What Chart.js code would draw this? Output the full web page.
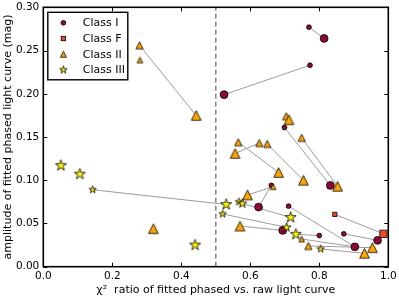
<!DOCTYPE html>
<html><head><meta charset="utf-8">
<script src="https://cdn.jsdelivr.net/npm/chart.js@4/dist/chart.umd.min.js"></script>
<style>html,body{margin:0;padding:0;background:#fff}</style>
</head><body>
<canvas id="c" width="399" height="300"></canvas>
<script>
// ---- data ----
const xTicks = [0, 0.2, 0.4, 0.6, 0.8, 1.0];
const xTickLabels = ['0.0', '0.2', '0.4', '0.6', '0.8', '1.0'];
const yTicks = [0, 0.05, 0.10, 0.15, 0.20, 0.25, 0.30];
const yTickLabels = ['0.00', '0.05', '0.10', '0.15', '0.20', '0.25', '0.30'];
const chi2Threshold = 0.5;

const classI_x = [0.770, 0.814, 0.773, 0.524, 0.699, 0.832, 0.661, 0.624, 0.711, 0.903, 0.871, 0.969, 0.694, 0.800];
const classI_y = [0.277, 0.264, 0.233, 0.199, 0.161, 0.094, 0.094, 0.069, 0.070, 0.023, 0.038, 0.0305, 0.042, 0.036];
const classI_sz = [1, 2, 1, 2, 1, 2, 1, 2, 1, 2, 1, 2, 2, 1];

const classF_x = [0.845, 0.986];
const classF_y = [0.0605, 0.038];
const classF_sz = [1, 2];

const classII_x = [0.279, 0.280, 0.443, 0.319, 0.704, 0.712, 0.749, 0.853, 0.565, 0.682, 0.626, 0.556, 0.649, 0.754, 0.666, 0.592, 0.570, 0.749, 0.768, 0.954, 0.931];
const classII_y = [0.256, 0.239, 0.175, 0.044, 0.174, 0.170, 0.149, 0.093, 0.144, 0.109, 0.143, 0.131, 0.142, 0.100, 0.0925, 0.083, 0.047, 0.032, 0.024, 0.022, 0.0155];
const classII_sz = [2, 1, 3, 3, 2, 3, 2, 3, 2, 3, 2, 3, 2, 3, 1, 3, 3, 1, 2, 3, 3];

const classIII_x = [0.051, 0.106, 0.143, 0.440, 0.530, 0.567, 0.577, 0.520, 0.717, 0.705, 0.732, 0.804];
const classIII_y = [0.117, 0.107, 0.089, 0.025, 0.072, 0.075, 0.073, 0.061, 0.057, 0.0455, 0.0375, 0.0205];
const classIII_sz = [3, 3, 1, 3, 3, 1, 2, 1, 3, 2, 3, 1];

// pairs of (class, index) joined by a grey line
const links = [
  ['I',0,'I',1], ['I',2,'I',3], ['I',4,'I',5], ['I',6,'I',7], ['I',8,'I',9], ['I',10,'I',11],
  ['F',0,'F',1],
  ['II',0,'II',2], ['II',6,'II',7], ['II',8,'II',9], ['II',10,'II',11], ['II',12,'II',13], ['II',14,'II',15],
  ['III',2,'III',4], ['III',6,'III',8], ['III',7,'III',9], ['II',16,'I',12], ['III',10,'I',13],
  ['II',17,'I',9], ['II',18,'II',19], ['III',11,'II',20]
];

// ---- styles ----
const FONT = 'DejaVu Sans';
const colI = '#8c0a34', colF = '#ef4a26', colII = '#ffa500', colIII = '#fff200';
const circR = {1: 2.4, 2: 3.9};
const sqR = {1: 3.0, 2: 5.2};
const triW = {1: 5.6, 2: 7.2, 3: 9.6};
const starR = {1: 3.9, 2: 4.7, 3: 5.8};

function triCanvas(w, fill) {
  const s = Math.ceil(w + 3);
  const c = document.createElement('canvas'); c.width = s; c.height = s;
  const g = c.getContext('2d'); const cx = s / 2, cy = s / 2, h = w / 2;
  g.beginPath(); g.moveTo(cx, cy - h); g.lineTo(cx + h, cy + h); g.lineTo(cx - h, cy + h); g.closePath();
  g.fillStyle = fill; g.fill(); g.lineWidth = 0.8; g.strokeStyle = '#000'; g.lineJoin = 'miter'; g.stroke();
  return c;
}
function starCanvas(R, fill) {
  const s = Math.ceil(2 * R + 3);
  const c = document.createElement('canvas'); c.width = s; c.height = s;
  const g = c.getContext('2d'); const cx = s / 2, cy = s / 2;
  g.beginPath();
  for (let i = 0; i < 10; i++) {
    const r = i % 2 === 0 ? R : R * 0.382;
    const a = -Math.PI / 2 + i * Math.PI / 5;
    const px = cx + r * Math.cos(a), py = cy + r * Math.sin(a);
    if (i === 0) g.moveTo(px, py); else g.lineTo(px, py);
  }
  g.closePath(); g.fillStyle = fill; g.fill(); g.lineWidth = 0.8; g.strokeStyle = '#000'; g.stroke();
  return c;
}

const pts = (xs, ys) => xs.map((v, i) => ({x: v, y: ys[i]}));
const lookup = {
  I: [classI_x, classI_y], F: [classF_x, classF_y], II: [classII_x, classII_y], III: [classIII_x, classIII_y]
};
const linkSets = links.map(l => ({
  data: [{x: lookup[l[0]][0][l[1]], y: lookup[l[0]][1][l[1]]}, {x: lookup[l[2]][0][l[3]], y: lookup[l[2]][1][l[3]]}],
  showLine: true, borderColor: '#9c9c9c', borderWidth: 1, pointRadius: 0, order: 10, isLink: true
}));

const datasets = [
  {label: 'Class III', data: pts(classIII_x, classIII_y), order: 1,
   pointStyle: classIII_sz.map(s => starCanvas(starR[s], colIII)), pointRadius: classIII_sz.map(s => starR[s])},
  {label: 'Class II', data: pts(classII_x, classII_y), order: 2,
   pointStyle: classII_sz.map(s => triCanvas(triW[s], colII)), pointRadius: classII_sz.map(s => triW[s] / 2)},
  {label: 'Class F', data: pts(classF_x, classF_y), order: 3, pointStyle: 'rect',
   backgroundColor: colF, borderColor: '#000', borderWidth: 0.8, pointRadius: classF_sz.map(s => sqR[s])},
  {label: 'Class I', data: pts(classI_x, classI_y), order: 4, pointStyle: 'circle',
   backgroundColor: colI, borderColor: '#000', borderWidth: 0.8, pointRadius: classI_sz.map(s => circR[s])},
  ...linkSets,
  {data: [{x: chi2Threshold, y: yTicks[0]}, {x: chi2Threshold, y: yTicks[yTicks.length - 1]}],
   showLine: true, borderColor: '#808080', borderWidth: 1.5, borderDash: [5, 3], pointRadius: 0, order: 11, isLink: true}
];

const framePlugin = {
  id: 'frame',
  afterDatasetsDraw(chart) {
    const {ctx, chartArea: a, scales: {x, y}} = chart;
    ctx.save();
    ctx.strokeStyle = '#000'; ctx.lineWidth = 1;
    ctx.beginPath();
    xTicks.forEach(v => {
      const p = Math.round(x.getPixelForValue(v)) + 0.5;
      ctx.moveTo(p, a.bottom); ctx.lineTo(p, a.bottom - 4);
      ctx.moveTo(p, a.top); ctx.lineTo(p, a.top + 4);
    });
    yTicks.forEach(v => {
      const p = Math.round(y.getPixelForValue(v)) + 0.5;
      ctx.moveTo(a.left, p); ctx.lineTo(a.left + 4, p);
      ctx.moveTo(a.right, p); ctx.lineTo(a.right - 4, p);
    });
    ctx.stroke();
    ctx.lineWidth = 1.6;
    ctx.strokeRect(a.left, a.top, a.right - a.left, a.bottom - a.top);
    ctx.restore();
  },
  afterDraw(chart) {
    const {ctx, chartArea: a} = chart;
    const bx = a.left + 4.5, by = a.top + 5, bw = 80, bh = 67.5;
    ctx.save();
    ctx.fillStyle = '#fff'; ctx.fillRect(bx, by, bw, bh);
    ctx.strokeStyle = '#000'; ctx.lineWidth = 1.4; ctx.strokeRect(bx, by, bw, bh);
    const rows = [
      ['Class I', 'c'], ['Class F', 's'], ['Class II', 't'], ['Class III', 'st']
    ];
    rows.forEach((r, i) => {
      const cy = by + 10.5 + i * 15.7, mx = bx + 15.6;
      ctx.lineWidth = 0.8; ctx.strokeStyle = '#000';
      if (r[1] === 'c') {
        ctx.beginPath(); ctx.arc(mx, cy, 2.4, 0, Math.PI * 2); ctx.fillStyle = colI; ctx.fill(); ctx.stroke();
      } else if (r[1] === 's') {
        ctx.fillStyle = colF; ctx.fillRect(mx - 2.2, cy - 2.2, 4.4, 4.4); ctx.strokeRect(mx - 2.2, cy - 2.2, 4.4, 4.4);
      } else if (r[1] === 't') {
        const c = triCanvas(6, colII); ctx.drawImage(c, mx - c.width / 2, cy - c.height / 2);
      } else {
        const c = starCanvas(4, colIII); ctx.drawImage(c, mx - c.width / 2, cy - c.height / 2);
      }
      ctx.fillStyle = '#000'; ctx.font = '11px "' + FONT + '"'; ctx.textBaseline = 'middle'; ctx.textAlign = 'left';
      ctx.fillText(r[0], bx + 35, cy + 0.5);
    });
    ctx.restore();
  }
};

Chart.defaults.font.family = FONT;
Chart.defaults.color = '#000';

new Chart(document.getElementById('c'), {
  type: 'scatter',
  data: {datasets},
  options: {
    responsive: false, animation: false, devicePixelRatio: 1,
    layout: {padding: {left: 0, top: 7.3, right: 10.7, bottom: 0}},
    plugins: {legend: {display: false}, tooltip: {enabled: false}},
    scales: {
      x: {
        type: 'linear', min: xTicks[0], max: xTicks[xTicks.length - 1],
        grid: {display: false, drawTicks: false}, border: {display: false},
        ticks: {font: {size: 10.5}, padding: 3, autoSkip: false, maxRotation: 0,
          callback: (v) => xTickLabels[xTicks.findIndex(t => Math.abs(t - v) < 1e-9)]},
        afterBuildTicks: s => { s.ticks = xTicks.map(v => ({value: v})); },
        afterFit: s => { s.height = 33.3; s.paddingLeft = 0; s.paddingRight = 0; },
        title: {display: true, text: 'χ²  ratio of fitted phased vs. raw light curve', font: {size: 11}, padding: {top: 0, bottom: 3}}
      },
      y: {
        type: 'linear', min: yTicks[0], max: yTicks[yTicks.length - 1],
        grid: {display: false, drawTicks: false}, border: {display: false},
        ticks: {font: {size: 10.5}, padding: 4, autoSkip: false,
          callback: (v) => yTickLabels[yTicks.findIndex(t => Math.abs(t - v) < 1e-9)]},
        afterBuildTicks: s => { s.ticks = yTicks.map(v => ({value: v})); },
        afterFit: s => { s.width = 43.3; s.paddingTop = 0; s.paddingBottom = 0; },
        title: {display: true, text: 'amplitude of fitted phased light curve (mag)', font: {size: 11}, padding: {top: 2, bottom: 0}}
      }
    }
  },
  plugins: [framePlugin]
});
</script>
</body></html>
